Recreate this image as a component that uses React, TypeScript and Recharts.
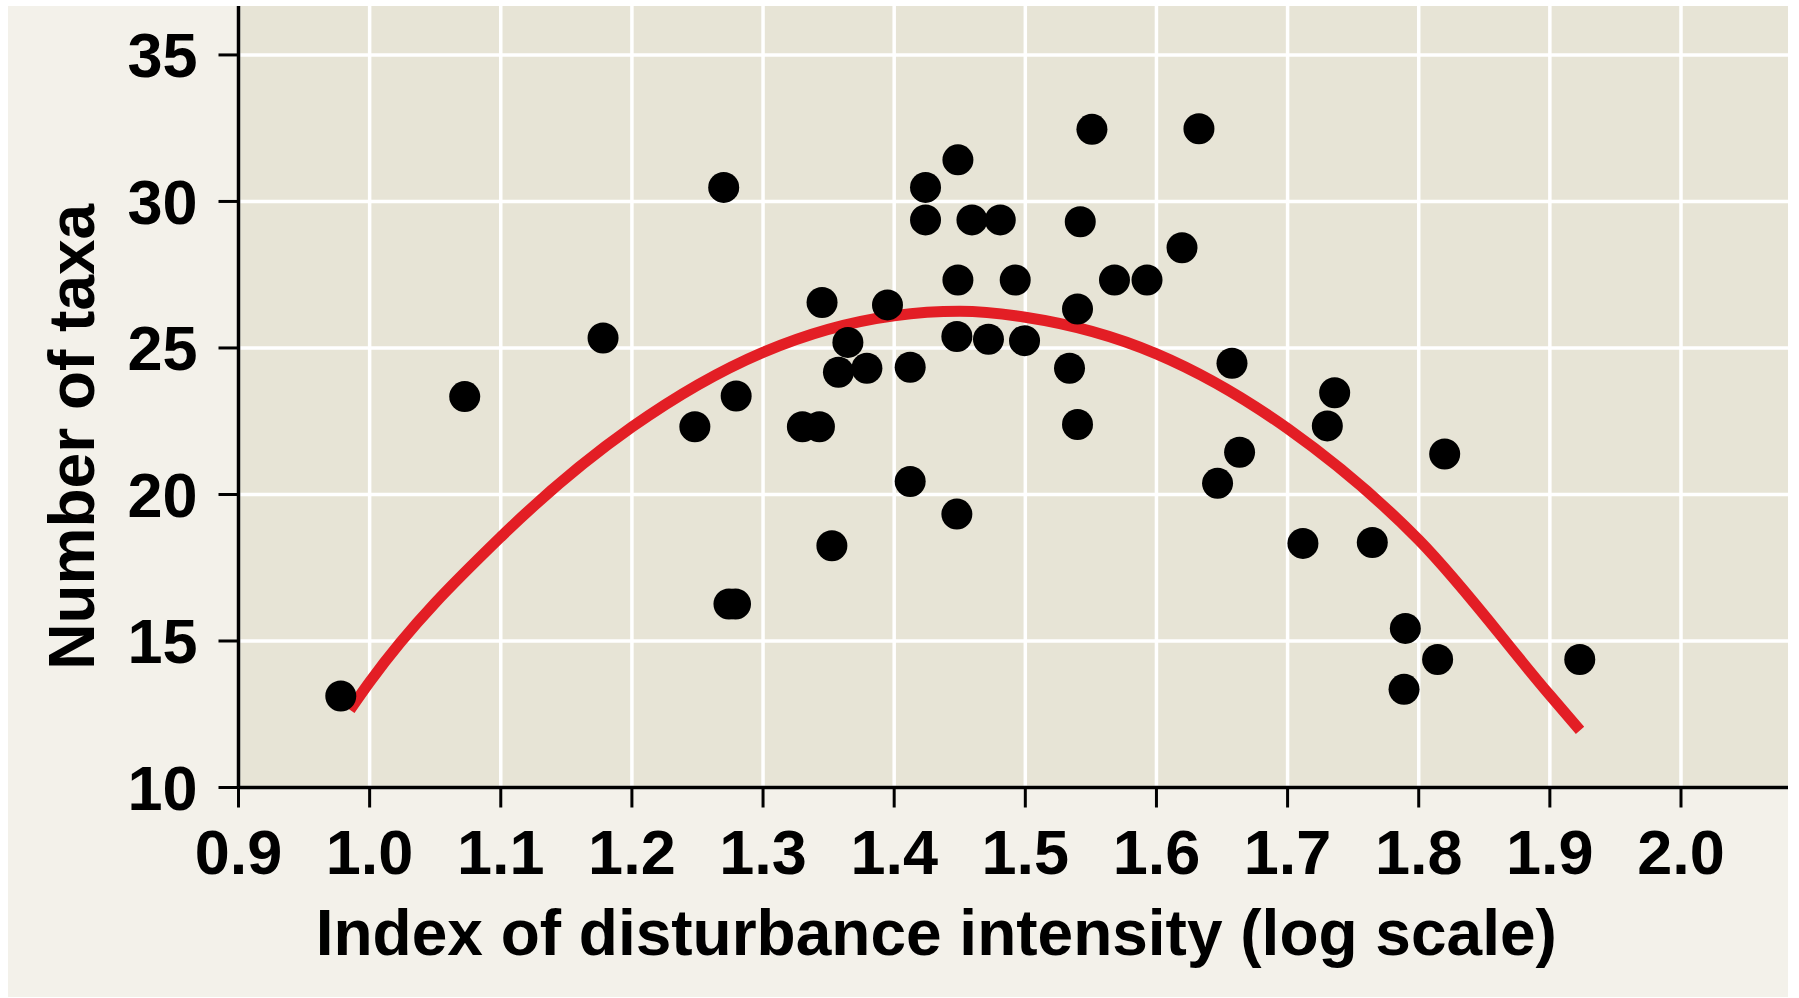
import {
  ComposedChart,
  Scatter,
  Line,
  XAxis,
  YAxis,
  CartesianGrid,
  Label,
} from "recharts"

const FONT = '"Liberation Sans", Arial, Helvetica, sans-serif'

// ============ Data ============
const disturbance = [
  0.978, 1.0725, 1.178, 1.248, 1.27, 1.274, 1.279, 1.2795, 1.33, 1.343,
  1.345, 1.3525, 1.3575, 1.3647, 1.3792, 1.3949, 1.4122, 1.4122, 1.4239, 1.4239,
  1.4486, 1.4486, 1.4478, 1.4478, 1.4593, 1.4719, 1.4809, 1.4923, 1.4994, 1.5337,
  1.5398, 1.5419, 1.5398, 1.5508, 1.568, 1.5928, 1.6195, 1.6324, 1.6576, 1.6466,
  1.6634, 1.7117, 1.7303, 1.7359, 1.7646, 1.7898, 1.7888, 1.8144, 1.8198, 1.9228,
]
const taxa = [
  13.12, 23.34, 25.34, 22.31, 30.48, 16.26, 16.26, 23.36, 22.31, 22.31,
  26.55, 18.25, 24.17, 25.19, 24.31, 26.47, 24.34, 20.44, 30.48, 29.37,
  31.42, 27.32, 25.39, 19.33, 29.37, 25.3, 29.37, 27.32, 25.25, 24.31,
  26.33, 29.31, 22.39, 32.46, 27.32, 27.32, 28.42, 32.48, 24.48, 20.38,
  21.44, 18.33, 22.34, 23.47, 18.36, 15.43, 13.35, 14.37, 21.38, 14.37,
]

// fitted curve, read at the grid lines
const fitX = [0.985, 1.0, 1.1, 1.2, 1.3, 1.4, 1.45, 1.5, 1.6, 1.7, 1.8, 1.9, 1.923]
const fitY = [12.65, 13.6, 18.55, 22.3, 24.85, 26.1, 26.25, 26.05, 24.8, 22.25, 18.45, 13.15, 11.95]

const xTicks = [0.9, 1.0, 1.1, 1.2, 1.3, 1.4, 1.5, 1.6, 1.7, 1.8, 1.9, 2.0]
const yTicks = [10, 15, 20, 25, 30, 35]

const points = disturbance.map((x, i) => ({ x, y: taxa[i] }))
const fit = fitX.map((x, i) => ({ x, y: fitY[i] }))

const tickStyle = { fill: "#000", fontSize: 63, fontWeight: 700, fontFamily: FONT }
const axisLine = { stroke: "#000", strokeWidth: 3.5 }
const tickLine = { stroke: "#000", strokeWidth: 3 }

const Dot = (props: any) => (
  <circle cx={props.cx} cy={props.cy} r={15.5} fill="#000" />
)

export default function App() {
  return (
    <div
      style={{
        position: "absolute",
        left: 0,
        top: 0,
        width: 1799,
        height: 998,
        background: "#ffffff",
      }}
    >
      <div
        style={{
          position: "absolute",
          left: 8,
          top: 6,
          width: 1780,
          height: 991,
          background: "#f3f1ea",
        }}
      />
      <div style={{ position: "absolute", left: 0, top: 0 }}>
        <ComposedChart
          width={1799}
          height={998}
          margin={{ top: 6, right: 11, left: 8, bottom: 0 }}
        >
          <CartesianGrid
            fill="#e7e4d6"
            fillOpacity={1}
            stroke="#ffffff"
            strokeWidth={3.5}
            horizontalValues={yTicks}
            verticalValues={xTicks}
          />
          <XAxis
            type="number"
            dataKey="x"
            domain={[0.9, 2.0816]}
            ticks={xTicks}
            allowDataOverflow
            height={210.5}
            tickSize={20}
            tickMargin={22}
            tick={tickStyle}
            axisLine={axisLine}
            tickLine={tickLine}
            tickFormatter={(v: number) => v.toFixed(1)}
            interval={0}
          >
            <Label
              value="Index of disturbance intensity (log scale)"
              position="insideBottom"
              offset={43}
              dx={-77}
              style={{ fill: "#000", fontSize: 64, fontWeight: 700, fontFamily: FONT }}
            />
          </XAxis>
          <YAxis
            type="number"
            dataKey="y"
            domain={[10, 36.67]}
            ticks={yTicks}
            allowDataOverflow
            width={230.5}
            tickSize={20}
            tickMargin={21}
            tick={tickStyle}
            axisLine={axisLine}
            tickLine={tickLine}
            interval={0}
          >
            <Label
              value="Number of taxa"
              position="center"
              angle={-90}
              dx={-52}
              dy={40}
              style={{ fill: "#000", fontSize: 64, fontWeight: 700, fontFamily: FONT }}
            />
          </YAxis>
          <Line
            data={fit}
            dataKey="y"
            type="monotoneX"
            stroke="#e31e25"
            strokeWidth={11}
            dot={false}
            activeDot={false}
            isAnimationActive={false}
          />
          <Scatter
            data={points}
            dataKey="y"
            shape={Dot}
            isAnimationActive={false}
          />
        </ComposedChart>
      </div>
    </div>
  )
}
